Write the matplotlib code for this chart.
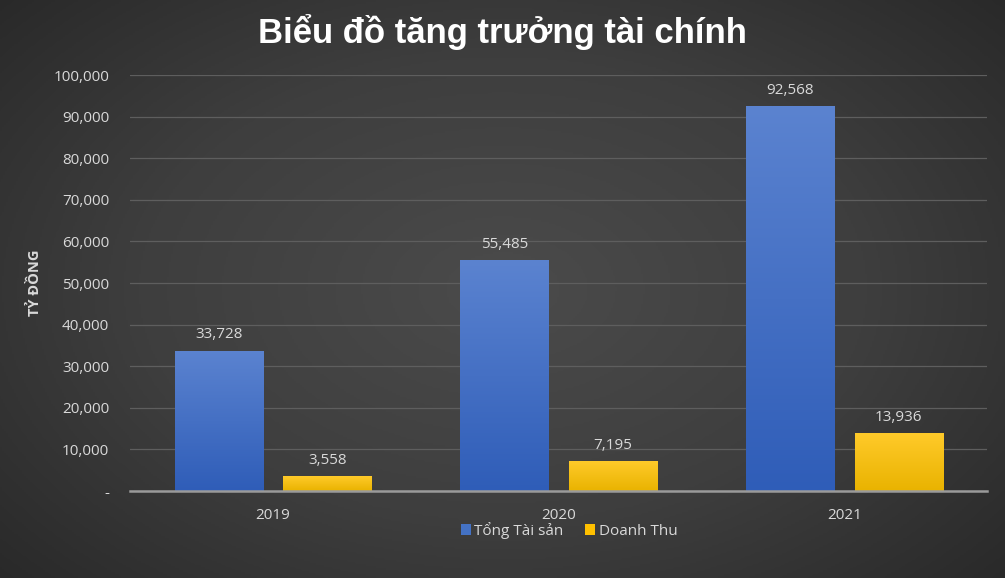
import matplotlib.pyplot as plt
import numpy as np
from matplotlib.colors import LinearSegmentedColormap
from matplotlib.ticker import FuncFormatter

years = ["2019", "2020", "2021"]
tong_tai_san = [33728, 55485, 92568]
doanh_thu = [3558, 7195, 13936]
series_names = ["Tổng Tài sản", "Doanh Thu"]

plt.rcParams['font.family'] = ['Open Sans', 'DejaVu Sans']

fig = plt.figure(figsize=(10.05, 5.78), dpi=100)

# radial background
bg = fig.add_axes([0, 0, 1, 1], zorder=-10)
yy, xx = np.mgrid[-1:1:300j, -1:1:500j]
r = np.sqrt(xx**2 + (yy * 0.9)**2)
bg_cmap = LinearSegmentedColormap.from_list("bg", ["#4b4b4b", "#3e3e3e", "#262626"])
bg.imshow(r, cmap=bg_cmap, aspect="auto", extent=[0, 1, 0, 1], vmin=0, vmax=1.45)
bg.set_axis_off()

ax = fig.add_axes([0.1294, 0.1505, 0.853, 0.7195])
ax.set_facecolor("none")

x = np.arange(len(years))
w = 0.308
off = 0.19
b1 = ax.bar(x - off, tong_tai_san, w, color="#4472c4", zorder=3, label=series_names[0])
b2 = ax.bar(x + off, doanh_thu, w, color="#ffc000", zorder=3, label=series_names[1])

blue_grad = LinearSegmentedColormap.from_list("b", ["#2f5db8", "#5b83d0"])
yel_grad = LinearSegmentedColormap.from_list("y", ["#e9b300", "#ffca2a"])
grad = np.linspace(0, 1, 256).reshape(-1, 1)
for bars, cm in ((b1, blue_grad), (b2, yel_grad)):
    for p in bars:
        x0, y0 = p.get_x(), p.get_y()
        im = ax.imshow(grad, cmap=cm, aspect="auto", origin="lower",
                       extent=[x0, x0 + p.get_width(), y0, y0 + p.get_height()], zorder=4)
        im.set_clip_path(p)

for bars in (b1, b2):
    for p in bars:
        ax.text(p.get_x() + p.get_width() / 2, p.get_height() + 2000, f"{p.get_height():,.0f}",
                ha="center", va="bottom", color="#d9d9d9", fontsize=11)

ax.set_xlim(-0.5, 2.5)
ax.set_ylim(0, 100000)
ax.set_yticks(np.arange(0, 100001, 10000))
ax.yaxis.set_major_formatter(FuncFormatter(lambda v, _: "-" if v == 0 else f"{v:,.0f}"))
ax.set_xticks(x)
ax.set_xticklabels(years)
ax.tick_params(axis="both", length=0, colors="#d9d9d9", labelsize=11)
ax.tick_params(axis="y", pad=15)
ax.tick_params(axis="x", pad=12)
ax.grid(axis="y", color="#5e5e5e", linewidth=0.9, zorder=0)
for s in ("top", "right", "left"):
    ax.spines[s].set_visible(False)
ax.spines["bottom"].set_color("#9a9a9a")
ax.spines["bottom"].set_linewidth(1.8)
ax.spines["bottom"].set_zorder(5)

ax.set_ylabel("TỶ ĐỒNG", color="#d9d9d9", fontsize=10.5, fontweight="bold", labelpad=8)

fig.text(0.5, 0.945, "Biểu đồ tăng trưởng tài chính", ha="center", va="center",
         color="white", fontsize=25, fontweight="bold", family=["Liberation Sans", "DejaVu Sans"])

leg = ax.legend(loc="center", bbox_to_anchor=(0.512, -0.094), ncol=2, frameon=False,
                fontsize=11, labelcolor="#d9d9d9", handlelength=0.65, handleheight=0.75,
                handletextpad=0.25, columnspacing=1.4, borderpad=0)

fig.savefig("out.png", dpi=100)
